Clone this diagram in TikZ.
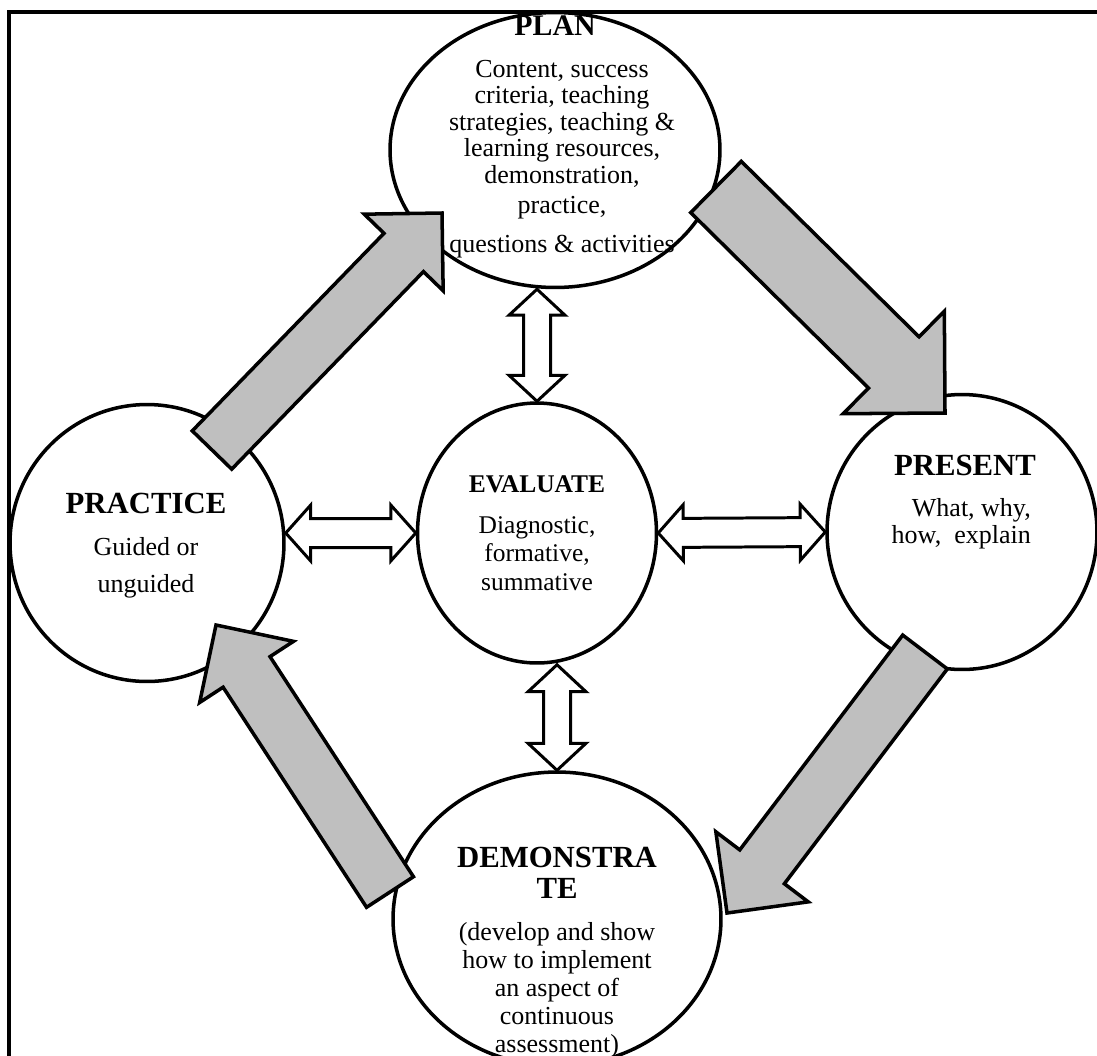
\documentclass[tikz,border=0pt]{standalone}
\usepackage{fontspec}
\setmainfont{Liberation Serif}
\usetikzlibrary{shapes.geometric,calc,positioning}
\definecolor{arrowgray}{RGB}{191,191,191}

% wide filled arrow: tail, tip, half shaft width, half head width
\newcommand{\blockarrow}[4]{%
  \coordinate (ba-c) at ($(#2)!#4!(#1)$);
  \filldraw[blockarr] ($(#1)!#3!-90:(#2)$) -- ($(ba-c)!#3!90:(#1)$) -- ($(ba-c)!#4!90:(#1)$)
    -- (#2) -- ($(ba-c)!#4!-90:(#1)$) -- ($(ba-c)!#3!-90:(#1)$) -- ($(#1)!#3!90:(#2)$) -- cycle;
}
% hollow two-headed arrow: end, end, half shaft, half head, head length
\newcommand{\dblarrow}[5]{%
  \coordinate (da-a) at ($(#1)!#5!(#2)$);
  \coordinate (da-b) at ($(#2)!#5!(#1)$);
  \filldraw[dblarr] (#1) -- ($(da-a)!#4!90:(#2)$) -- ($(da-a)!#3!90:(#2)$) -- ($(da-b)!#3!-90:(#1)$)
    -- ($(da-b)!#4!-90:(#1)$) -- (#2) -- ($(da-b)!#4!90:(#1)$) -- ($(da-b)!#3!90:(#1)$)
    -- ($(da-a)!#3!-90:(#2)$) -- ($(da-a)!#4!-90:(#2)$) -- cycle;
}

\begin{document}
\begin{tikzpicture}[x=0.02cm,y=-0.02cm,
  stage/.style={draw=black,line width=2pt,fill=white,ellipse,inner sep=0pt},
  blockarr/.style={draw=black,fill=arrowgray,line width=2pt,line join=miter},
  dblarr/.style={draw=black,fill=white,line width=1.7pt,line join=miter},
  ttl/.style={font=\fontsize{17.5}{17.6}\selectfont\bfseries,align=center,anchor=base},
  body/.style={font=\fontsize{14.8}{15.1}\selectfont,align=center,anchor=base},
]
  \useasboundingbox (0,0) rectangle (1097,1055);

  % the five stages
  \node[stage,minimum width=6.6cm,minimum height=5.5cm]   (plan)     at (555,150) {};
  \node[stage,minimum width=5.48cm,minimum height=5.54cm] (practice) at (147,543) {};
  \node[stage,minimum width=4.78cm,minimum height=5.2cm]  (evaluate) at (537,533) {};
  \node[stage,minimum width=5.4cm,minimum height=5.5cm]   (present)  at (962,532) {};
  \node[stage,minimum width=6.56cm,minimum height=5.88cm] (demo)     at (557,919) {};

  % cycle arrows
  \coordinate (a1s) at (212,450); \coordinate (a1e) at (442,213);
  \coordinate (a2s) at (716,187); \coordinate (a2e) at (945,413);
  \coordinate (a3s) at (925,652); \coordinate (a3e) at (727,913);
  \coordinate (a4s) at (390,892); \coordinate (a4e) at (216,625);
  \blockarrow{a1s}{a1e}{0.55cm}{1.1cm}
  \blockarrow{a2s}{a2e}{0.72cm}{1.44cm}
  \blockarrow{a3s}{a3e}{0.56cm}{1.16cm}
  \blockarrow{a4s}{a4e}{0.56cm}{1.12cm}

  % links to evaluate
  \coordinate (d1) at (evaluate.north |- plan.south);
  \coordinate (d2) at (practice.east |- evaluate.west);
  \coordinate (d3) at (demo.north |- evaluate.south);
  \dblarrow{d1}{evaluate.north}{0.27cm}{0.56cm}{0.52cm}
  \dblarrow{d2}{evaluate.west}{0.29cm}{0.56cm}{0.5cm}
  \dblarrow{evaluate.east}{present.west}{0.29cm}{0.56cm}{0.5cm}
  \dblarrow{d3}{demo.north}{0.27cm}{0.58cm}{0.54cm}

  % texts (anchored at the baseline of their last line)
  \node[ttl,font=\fontsize{17}{17}\selectfont\bfseries] (plantitle) at (555,35) {PLAN};
  \node[body] (plantext) at (562,252) {Content, success\\criteria, teaching\\strategies, teaching \&\\
    learning resources,\\demonstration,\\[2pt]practice,\\[7pt]questions \& activities};
  \node[ttl] (practitle) at (146,513) {PRACTICE};
  \node[body,font=\fontsize{14.8}{21}\selectfont] (practext) at (146,592) {Guided or\\unguided};
  \node[ttl,font=\fontsize{14.5}{15}\selectfont\bfseries] (evaltitle) at (537,492) {EVALUATE};
  \node[body,font=\fontsize{14.5}{16.2}\selectfont] (evaltext) at (537,590) {Diagnostic,\\formative,\\summative};
  \node[ttl] (prestitle) at (965,475) {PRESENT};
  \node[body,align=right,anchor=base east] (prestext) at (1037,543) {What, why,\\how,\ \ explain};
  \node[ttl] (demotitle) at (557,898) {DEMONSTRA\\TE};
  \node[body,font=\fontsize{14.8}{15.9}\selectfont] (demotext) at (557,1052) {(develop and show\\how to implement\\
    an aspect of\\continuous\\assessment)};

  % outer frame
  \draw[line width=2.8pt] (9,1200) -- (9,12) -- (1200,12);
\end{tikzpicture}
\end{document}
